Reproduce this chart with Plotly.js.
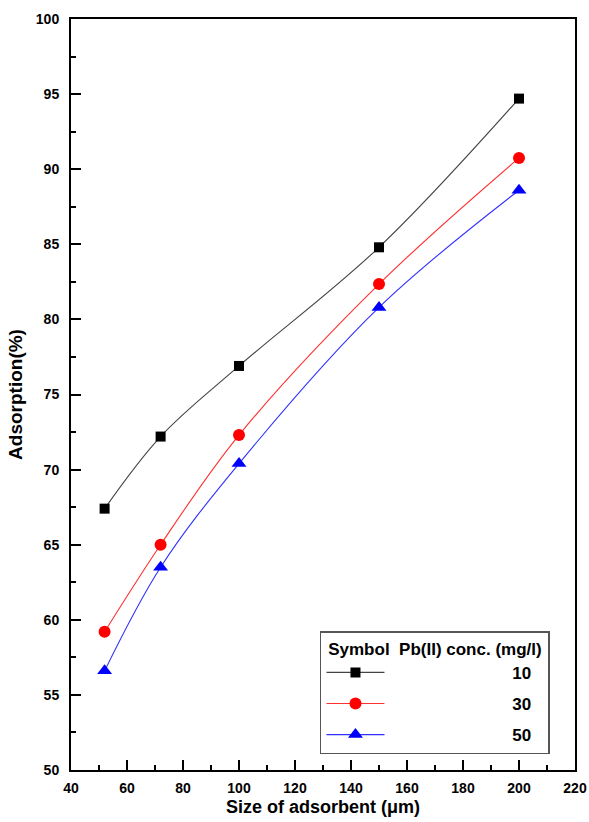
<!DOCTYPE html>
<html>
<head>
<meta charset="utf-8">
<script src="https://cdn.plot.ly/plotly-3.0.1.min.js"></script>
<style>html,body{margin:0;padding:0;background:#fff;}#chart{width:589px;height:822px;}</style>
</head>
<body>
<div id="chart"></div>
<script>
const sizes = [52, 72, 100, 150, 200];
const conc10 = [67.4, 72.2, 76.9, 84.8, 94.7];
const conc30 = [59.2, 65.0, 72.3, 82.35, 90.75];
const conc50 = [56.6, 63.5, 70.4, 80.8, 88.6];
const seriesNames = ["10", "30", "50"];
const pad = "\u00A0".repeat(26);

const F = "Liberation Sans, Arial, sans-serif";

function tr(y, name, color, lineColor, symbol, size, grp) {
  return {
    x: sizes, y: y, name: pad + name, type: "scatter", mode: "lines+markers",
    legendgroup: grp,
    line: {color: lineColor, width: 1.1, shape: "spline", smoothing: 1},
    marker: {color: color, symbol: symbol, size: size, line: {width: 0}}
  };
}

const data = [
  tr(conc10, seriesNames[0], "#000000", "#444444", "square", 10, "a"),
  tr(conc30, seriesNames[1], "#ff0000", "#ff3030", "circle", 12, "b"),
  tr(conc50, seriesNames[2], "#0000ff", "#3030ff", "triangle-up", 13, "c")
];

const axisCommon = {
  showline: true, linewidth: 2, linecolor: "#000", mirror: true,
  ticks: "inside", ticklen: 10, tickwidth: 2, tickcolor: "#000",
  showgrid: false, zeroline: false,
  tickfont: {family: F, size: 14, color: "#000", weight: "bold"}
};

const layout = {
  width: 589, height: 822,
  margin: {l: 71, r: 14, t: 19, b: 52},
  paper_bgcolor: "#fff", plot_bgcolor: "#fff",
  font: {family: F, color: "#000"},
  xaxis: Object.assign({}, axisCommon, {
    range: [40, 220], dtick: 20, tick0: 40,
    minor: {dtick: 10, ticks: "inside", ticklen: 5, tickwidth: 2, tickcolor: "#000"},
    ticklabelstandoff: 4,
    title: {text: "Size of adsorbent (\u03bcm)", font: {family: F, size: 18, weight: "bold", color: "#000"}, standoff: 6}
  }),
  yaxis: Object.assign({}, axisCommon, {
    range: [50, 100], dtick: 5, tick0: 50,
    minor: {dtick: 2.5, ticks: "inside", ticklen: 5, tickwidth: 2, tickcolor: "#000"},
    ticklabelstandoff: 7,
    title: {text: "Adsorption(%)", font: {family: F, size: 19, weight: "bold", color: "#000"}, standoff: 8}
  }),
  showlegend: true,
  legend: {
    x: 0.494, xanchor: "left", y: 0.021, yanchor: "bottom",
    bordercolor: "#555", borderwidth: 1.5, bgcolor: "#fff",
    traceorder: "grouped", tracegroupgap: 6, itemwidth: 58,
    font: {family: F, size: 17, weight: "bold", color: "#000"},
    title: {text: "\u00A0Symbol\u00A0\u00A0Pb(II) conc. (mg/l)\u00A0", font: {family: F, size: 17, weight: "bold", color: "#000"}}
  }
};

Plotly.newPlot("chart", data, layout, {staticPlot: true, displayModeBar: false});
</script>
</body>
</html>
